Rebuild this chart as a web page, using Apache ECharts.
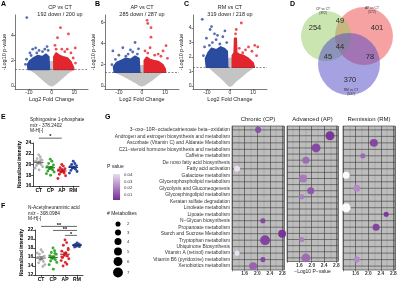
<!DOCTYPE html>
<html>
<head>
<meta charset="utf-8">
<title>Metabolomics panels</title>
<script src="https://cdn.jsdelivr.net/npm/echarts@6.0.0/dist/echarts.min.js"></script>
<style>
  html, body { margin: 0; padding: 0; background: #fff; }
  #chart { width: 400px; height: 283px; }
</style>
</head>
<body>
<div id="chart"></div>
<script>
// ---------- A-C: volcano plots (x = log2 fold change, y = -log10 p) ----------
const volcanoNames = ['CP vs CT', 'AP vs CT', 'RM vs CT'];
const downCounts = [192, 285, 319];
const upCounts = [200, 287, 218];
const pThreshold = 1.3; // -log10(0.05)

// non-significant cloud outline, dense significant cloud outlines, sparse points
const cpGray = [[-9.5,1.3],[-7,1.0],[-4.5,0.6],[-2.5,0.3],[-1,0.08],[0,0],[1,0.08],[2.5,0.3],[4.5,0.6],[7,1.0],[9.5,1.3],[1,1.3],[0.8,1.9],[-0.8,1.9],[-1,1.3]];
const cpDownArea = [[-10.3,1.3],[-10.6,1.7],[-9.5,2.0],[-8,2.2],[-6,2.4],[-4,2.3],[-2.5,2.5],[-1.2,2.3],[-1,1.3]];
const cpUpArea = [[1,1.3],[1,2.3],[2,2.6],[3.5,2.4],[5,2.3],[7,2.2],[8.5,1.9],[9.5,1.5],[9.8,1.3]];
const cpDown = [[-10.9,5.4],[-8.3,2.9],[-7,3.0],[-9.5,2.6],[-5.5,2.8],[-3,2.9],[-2,3.1],[-11,2.1],[-6.5,2.6],[-4,2.7],[-1.5,2.8],[-9,2.4],[-11.5,1.7]];
const cpUp = [[3.9,4.6],[7.4,4.1],[2.6,3.8],[6.9,2.9],[10.4,3.0],[4.5,2.9],[2,2.9],[8.5,2.6],[5.8,2.7],[1.5,3.2],[9.5,2.2],[10.5,1.8]];

const apGray = [[-11.5,1.3],[-8,0.95],[-5,0.6],[-2.5,0.28],[-1,0.08],[0,0],[1,0.08],[2.5,0.3],[4.5,0.6],[6.5,0.95],[8.5,1.3],[1,1.3],[0.8,1.9],[-0.8,1.9],[-1,1.3]];
const apDownArea = [[-12,1.3],[-12.3,1.8],[-11,2.2],[-9,2.4],[-7,2.6],[-5,2.5],[-3,2.8],[-1.3,2.6],[-1,1.3]];
const apUpArea = [[1,1.3],[1,2.4],[2,2.7],[3.5,2.5],[5,2.4],[7,2.3],[9,2.0],[10,1.6],[10.2,1.3]];
const apDown = [[-12.6,3.3],[-3,4.1],[-8.3,3.6],[-6,3.0],[-10,2.9],[-4,3.2],[-2,3.0],[-7,2.8],[-1.5,3.5],[-11.5,2.5],[-13,2.0],[-5,3.4]];
const apUp = [[2.2,6.2],[2.5,5.9],[3.9,5.5],[3.9,4.6],[10.4,3.8],[9.1,3.3],[3.5,3.6],[7,3.0],[1.3,3.3],[5.5,2.9],[8.2,2.8],[11,2.6],[2.5,3.1]];

const rmGray = [[-9,1.3],[-6.5,0.95],[-4,0.6],[-2,0.28],[-0.8,0.07],[0,0],[0.8,0.07],[2.2,0.3],[4.5,0.6],[7,0.95],[10,1.3],[1,1.3],[0.8,1.9],[-0.8,1.9],[-1,1.3]];
const rmDownArea = [[-10.2,1.3],[-10.6,1.9],[-9.5,2.3],[-8,2.6],[-6,2.5],[-4,2.7],[-2.5,2.6],[-1.2,2.4],[-1,1.3]];
const rmUpArea = [[1,1.3],[1,2.1],[1.8,2.3],[2,3.3],[2.7,3.3],[2.9,2.3],[4,2.2],[6,2.1],[8,1.9],[10,1.6],[10.5,1.3]];
const rmDown = [[-12,4.6],[-8,4.1],[-8.6,3.9],[-6.7,3.6],[-5.4,3.5],[-10.2,3.3],[-3.1,3.4],[-7.6,3.0],[-4.4,2.9],[-1.4,3.0],[-8.9,2.8],[-2.2,3.8],[-11,2.7],[-6,3.2],[-11.5,2.1]];
const rmUp = [[4.9,4.35],[2.7,3.9],[2.4,3.6],[10.7,2.8],[12,2.7],[8,2.7],[6.7,2.5],[4,2.6],[9.5,2.4],[11.5,2.1],[5.5,2.3]];

// ---------- D: Venn ----------
const vennSets = ['CP vs CT', 'AP vs CT', 'RM vs CT'];
// CP only, CP&AP, AP only, all three, CP&RM, AP&RM, RM only
const vennCounts = [254, 49, 401, 44, 45, 78, 370];

// ---------- E / F: single metabolites ----------
const groups = ['CT', 'CP', 'AP', 'RM'];
const s1pCT = [21.8, 21.4, 21.1, 20.8, 20.6, 20.4, 20.2, 20.0, 19.8, 19.6, 19.3, 19.0, 20.9];
const s1pCP = [21.0, 20.6, 20.2, 19.9, 19.6, 19.4, 19.2, 19.0, 18.8, 18.6, 18.3, 18.0, 19.5];
const s1pAP = [20.0, 19.7, 19.4, 19.2, 19.0, 18.8, 18.6, 18.4, 18.2, 17.9, 17.4, 19.1, 18.7];
const s1pRM = [20.6, 20.2, 20.0, 19.8, 19.6, 19.5, 19.3, 19.1, 18.9, 18.7, 18.4];
const neuCT = [17.6, 17.1, 16.6, 16.2, 15.9, 15.6, 15.3, 15.0, 14.7, 14.3, 16.9, 15.8, 13.9];
const neuCP = [18.0, 17.4, 17.0, 16.6, 16.3, 16.0, 15.7, 15.4, 15.1, 14.8, 14.3, 13.3, 16.8, 15.9];
const neuAP = [19.8, 19.2, 18.6, 17.9, 17.3, 16.9, 16.5, 16.2, 15.9, 15.6, 15.2, 14.8, 14.4, 14.0, 17.6, 16.0];
const neuRM = [19.1, 18.9, 18.8, 18.7, 18.6, 18.5, 18.4, 18.3, 18.2];
const s1pSig = [['CT', 'AP', '*']];
const neuSig = [['CT', 'RM', '**'], ['CP', 'RM', '**'], ['AP', 'RM', '*']];

// ---------- G: pathway enrichment ----------
const pathways = [
  '3\u2212oxo\u221210R\u2212octadecatrienoate beta\u2212oxidation',
  'Androgen and estrogen biosynthesis and metabolism',
  'Ascorbate (Vitamin C) and Aldarate Metabolism',
  'C21\u2212steroid hormone biosynthesis and metabolism',
  'Caffeine metabolism',
  'De novo fatty acid biosynthesis',
  'Fatty acid activation',
  'Galactose metabolism',
  'Glycerophospholipid metabolism',
  'Glycolysis and Gluconeogenesis',
  'Glycosphingolipid metabolism',
  'Keratan sulfate degradation',
  'Linoleate metabolism',
  'Lipoate metabolism',
  'N\u2212Glycan biosynthesis',
  'Propanoate metabolism',
  'Starch and Sucrose Metabolism',
  'Tryptophan metabolism',
  'Ubiquinone Biosynthesis',
  'Vitamin A (retinol) metabolism',
  'Vitamin B6 (pyridoxine) metabolism',
  'Xenobiotics metabolism'
];
const facetNames = ['Chronic (CP)', 'Advanced (AP)', 'Remission (RM)'];
const cpRows = [1, 7, 15, 17, 18, 20, 21, 22];
const cpLogP = [2.03, 1.36, 2.18, 2.79, 2.25, 1.36, 2.18, 1.87];
const cpHits = [3, 3, 2, 5, 7, 2, 2, 5];
const apRows = [2, 4, 6, 9, 11, 12, 19, 22];
const apLogP = [2.59, 2.14, 1.81, 1.72, 1.97, 1.68, 1.68, 1.81];
const apHits = [6, 6, 4, 5, 4, 2, 2, 6];
const rmRows = [3, 5, 8, 10, 13, 14, 16, 21];
const rmLogP = [2.18, 1.83, 1.30, 1.64, 1.30, 2.57, 2.25, 1.64];
const rmHits = [5, 2, 4, 4, 6, 2, 4, 3];
const pLegend = [0.04, 0.03, 0.02, 0.01];
const countLegend = [2, 3, 4, 5, 6, 7];

// ---------- styling ----------
const FONT = '"Liberation Sans", Arial, Helvetica, sans-serif';
const TXT = '#222';
const BLUE = '#2b4ba0', RED = '#e3262e', GRAY = '#c4c4c4';
const groupColors = ['#b5b5b5', '#3aaa35', '#e3262e', '#2b4ba0'];
const meanColors = ['#6f6f6f', '#1e7d1c', '#b3141b', '#1a2f7a'];
const jitter = [0, 1, -1, 2, -2, 0.5, -0.5, 1.5, -1.5, 2.4, -2.4, 0.2, 1.2, -1.2, 2, -2];

function pColor(p) {
  const t = Math.max(0, Math.min(1, (0.05 - p) / (0.05 - 0.002)));
  const lo = [255, 255, 255], hi = [118, 46, 150];
  const c = lo.map((v, i) => Math.round(v + (hi[i] - v) * t));
  return 'rgb(' + c.join(',') + ')';
}
const colorForLogP = (x) => pColor(Math.pow(10, -x));
const dotSize = (n) => 3.2 + 0.95 * n;

const chart = echarts.init(document.getElementById('chart'), null, { renderer: 'canvas' });

const grids = [];
const xAxes = [];
const yAxes = [];
const series = [];
const graphics = [];

function text(x, y, str, o) {
  o = o || {};
  graphics.push({
    type: 'text', x: x, y: y, silent: true, z: 10,
    style: {
      text: str, fill: o.color || TXT, fontSize: o.size || 5, fontFamily: FONT,
      fontWeight: o.weight || 'normal', align: o.align || 'left', verticalAlign: o.valign || 'middle'
    }
  });
}

// ---- volcano panels ----
const volcanoLayout = [
  { left: 14, ymin: -0.25, ymax: 5.6, ticks: [0, 2, 4], title: 60 },
  { left: 105, ymin: -0.3, ymax: 6.7, ticks: [0, 2, 4, 6], title: 142 },
  { left: 193, ymin: -0.2, ymax: 4.9, ticks: [0, 1, 2, 3, 4], title: 230 }
];
const volcanoData = [
  [cpGray, cpDownArea, cpUpArea, cpDown, cpUp],
  [apGray, apDownArea, apUpArea, apDown, apUp],
  [rmGray, rmDownArea, rmUpArea, rmDown, rmUp]
];
const axisLineStyle = { color: '#222', width: 0.6 };

function polygonSeries(gi, pts, color, z) {
  return {
    type: 'custom', xAxisIndex: gi, yAxisIndex: gi, z: z, silent: true, clip: true,
    data: pts, encode: { x: 0, y: 1 },
    renderItem: (params, api) => {
      if (params.dataIndex !== 0) return null;
      return {
        type: 'polygon', shape: { points: pts.map(p => api.coord(p)) },
        style: { fill: color, stroke: color, lineWidth: 1.6, lineJoin: 'round' }
      };
    }
  };
}

volcanoLayout.forEach((L, gi) => {
  grids.push({ left: L.left, top: 15, width: 74, height: 74 });
  xAxes.push({
    gridIndex: gi, type: 'value', min: -16, max: 16,
    axisLine: { show: true, onZero: false, lineStyle: axisLineStyle },
    axisTick: { show: true, length: 1.5, customValues: [-10, 0, 10], lineStyle: axisLineStyle },
    axisLabel: { customValues: [-10, 0, 10], fontSize: 5, margin: 1.5, color: '#333', fontFamily: FONT },
    splitLine: { show: false },
    name: 'Log2 Fold Change', nameLocation: 'middle', nameGap: 6.5,
    nameTextStyle: { fontSize: 5.5, color: TXT, fontFamily: FONT }
  });
  yAxes.push({
    gridIndex: gi, type: 'value', min: L.ymin, max: L.ymax,
    axisLine: { show: true, onZero: false, lineStyle: axisLineStyle },
    axisTick: { show: true, length: 1.5, customValues: L.ticks, lineStyle: axisLineStyle },
    axisLabel: { customValues: L.ticks, fontSize: 5, margin: 1.5, color: '#333', fontFamily: FONT },
    splitLine: { show: false },
    name: '-Log10 p-value', nameLocation: 'middle', nameGap: 6.5,
    nameTextStyle: { fontSize: 5.5, color: TXT, fontFamily: FONT }
  });
  const d = volcanoData[gi];
  series.push(polygonSeries(gi, d[0], GRAY, 1));
  series.push(polygonSeries(gi, d[1], BLUE, 2));
  series.push(polygonSeries(gi, d[2], RED, 2));
  series.push({ type: 'scatter', xAxisIndex: gi, yAxisIndex: gi, data: d[3], symbolSize: 2.8, itemStyle: { color: BLUE }, silent: true, z: 3 });
  series.push({
    type: 'scatter', xAxisIndex: gi, yAxisIndex: gi, data: d[4], symbolSize: 2.8, itemStyle: { color: RED }, silent: true, z: 3,
    markLine: {
      silent: true, symbol: ['none', 'none'], label: { show: false }, z: 6,
      lineStyle: { color: '#444', type: [2, 1.5], width: 0.6 },
      data: [{ yAxis: pThreshold }]
    }
  });
  text(L.title, 7, volcanoNames[gi], { size: 5.5, align: 'center' });
  text(L.title, 14, downCounts[gi] + ' down / ' + upCounts[gi] + ' up', { size: 5.5, align: 'center' });
});

// ---- Venn (grid 3, hidden axes, units ~ px) ----
const vennCircles = [[36, 36, 25], [74, 36, 29], [59, 64, 31]];
const vennFill = ['rgba(150,204,95,0.5)', 'rgba(238,70,70,0.5)', 'rgba(78,70,196,0.5)'];
const vennDrawOrder = [1, 0, 2];
const vennCountPos = [[25, 28], [50, 21], [87, 28], [50, 47], [38, 57], [80, 57], [60, 80]];
const vennSetPos = [[33, 11], [82, 10], [61, 92]];
const c = vennCounts;
const vennTotals = [c[0] + c[1] + c[3] + c[4], c[1] + c[2] + c[3] + c[5], c[3] + c[4] + c[5] + c[6]];

grids.push({ left: 290, top: 0, width: 110, height: 100 });
xAxes.push({ gridIndex: 3, type: 'value', min: 0, max: 110, show: false });
yAxes.push({ gridIndex: 3, type: 'value', min: 0, max: 100, inverse: true, show: false });
series.push({
  type: 'custom', xAxisIndex: 3, yAxisIndex: 3, silent: true, z: 2,
  data: vennDrawOrder.map(i => vennCircles[i].concat([i])), encode: { x: 0, y: 1 },
  renderItem: (params, api) => {
    const p = api.coord([api.value(0), api.value(1)]);
    const r = api.size([api.value(2), 0])[0];
    return { type: 'circle', shape: { cx: p[0], cy: p[1], r: r }, style: { fill: vennFill[api.value(3)] } };
  }
});
series.push({
  type: 'custom', xAxisIndex: 3, yAxisIndex: 3, silent: true, z: 4,
  data: vennCountPos, encode: { x: 0, y: 1 },
  renderItem: (params, api) => {
    const p = api.coord([api.value(0), api.value(1)]);
    return {
      type: 'text', x: p[0], y: p[1],
      style: { text: String(vennCounts[params.dataIndex]), fontSize: 7.5, fontFamily: FONT, fill: '#2a2a2a', align: 'center', verticalAlign: 'middle' }
    };
  }
});
series.push({
  type: 'custom', xAxisIndex: 3, yAxisIndex: 3, silent: true, z: 4,
  data: vennSetPos, encode: { x: 0, y: 1 },
  renderItem: (params, api) => {
    const p = api.coord([api.value(0), api.value(1)]);
    const i = params.dataIndex;
    return {
      type: 'text', x: p[0], y: p[1],
      style: { text: vennSets[i] + '\n(' + vennTotals[i] + ')', fontSize: 3.3, lineHeight: 3.8, fontFamily: FONT, fill: '#333', align: 'center', verticalAlign: 'middle' }
    };
  }
});

// ---- E / F strip plots ----
function stripPanel(gi, layout, vals, sig, sigY) {
  grids.push({ left: layout.left, top: layout.top, width: layout.width, height: layout.height });
  const bold = { fontSize: 5, fontWeight: 'bold', color: '#000', fontFamily: FONT };
  xAxes.push({
    gridIndex: gi, type: 'category', data: groups, boundaryGap: true,
    axisLine: { show: true, lineStyle: { color: '#000', width: 0.7 } },
    axisTick: { show: true, alignWithLabel: true, length: 1.8, lineStyle: { color: '#000', width: 0.7 } },
    axisLabel: Object.assign({ margin: 2.2, interval: 0 }, bold)
  });
  yAxes.push({
    gridIndex: gi, type: 'value', min: layout.min, max: layout.max, interval: 2,
    axisLine: { show: true, lineStyle: { color: '#000', width: 0.7 } },
    axisTick: { show: true, length: 1.8, lineStyle: { color: '#000', width: 0.7 } },
    axisLabel: Object.assign({ margin: 1.8 }, bold),
    splitLine: { show: false },
    name: 'Normalized intensity', nameLocation: 'middle', nameGap: 8,
    nameTextStyle: { fontSize: 4.8, fontWeight: 'bold', color: '#000', fontFamily: FONT }
  });
  const pts = [];
  vals.forEach((arr, g) => arr.forEach((v, i) => pts.push([g, v, i])));
  series.push({
    type: 'custom', xAxisIndex: gi, yAxisIndex: gi, silent: true, z: 3,
    data: pts, encode: { x: 0, y: 1 },
    renderItem: (params, api) => {
      const g = api.value(0), i = api.value(2);
      const p = api.coord([g, api.value(1)]);
      return { type: 'circle', shape: { cx: p[0] + jitter[i % jitter.length] * 1.6, cy: p[1], r: 1.45 }, style: { fill: groupColors[g] } };
    }
  });
  const stats = vals.map((arr, g) => {
    const n = arr.length;
    const m = arr.reduce((a, b) => a + b, 0) / n;
    const sd = Math.sqrt(arr.reduce((a, b) => a + (b - m) * (b - m), 0) / (n - 1));
    return [g, m, sd / Math.sqrt(n)];
  });
  series.push({
    type: 'custom', xAxisIndex: gi, yAxisIndex: gi, silent: true, z: 4,
    data: stats, encode: { x: 0, y: 1 },
    renderItem: (params, api) => {
      const g = api.value(0), m = api.value(1), se = api.value(2);
      const p = api.coord([g, m]);
      const hi = api.coord([g, m + se])[1], lo = api.coord([g, m - se])[1];
      const st = { stroke: meanColors[g], lineWidth: 0.8 };
      const seg = (x1, y1, x2, y2, w) => ({ type: 'line', shape: { x1, y1, x2, y2 }, style: Object.assign({}, st, w ? { lineWidth: w } : {}) });
      return {
        type: 'group', children: [
          seg(p[0] - 4.8, p[1], p[0] + 4.8, p[1], 1.1),
          seg(p[0], hi, p[0], lo),
          seg(p[0] - 2.3, hi, p[0] + 2.3, hi),
          seg(p[0] - 2.3, lo, p[0] + 2.3, lo)
        ]
      };
    }
  });
  series.push({
    type: 'custom', xAxisIndex: gi, yAxisIndex: gi, silent: true, z: 5, clip: false,
    data: sig.map((s, k) => [groups.indexOf(s[0]), sigY[k]]), encode: { x: 0, y: 1 },
    renderItem: (params, api) => {
      const s = sig[params.dataIndex];
      const y = api.value(1);
      const a = api.coord([groups.indexOf(s[0]), y]);
      const b = api.coord([groups.indexOf(s[1]), y]);
      return {
        type: 'group', children: [
          { type: 'line', shape: { x1: a[0], y1: a[1], x2: b[0], y2: b[1] }, style: { stroke: '#000', lineWidth: 0.6 } },
          { type: 'text', x: (a[0] + b[0]) / 2, y: a[1] + 1.6, style: { text: s[2], fontSize: 5.5, fontWeight: 'bold', fontFamily: FONT, fill: '#000', align: 'center', verticalAlign: 'bottom' } }
        ]
      };
    }
  });
}
stripPanel(4, { left: 33, top: 143, width: 46, height: 43, min: 16, max: 24 }, [s1pCT, s1pCP, s1pAP, s1pRM], s1pSig, [24.9]);
stripPanel(5, { left: 35, top: 230, width: 48, height: 45, min: 12, max: 22 }, [neuCT, neuCP, neuAP, neuRM], neuSig, [22.8, 21.9, 20.8]);

text(30, 120, 'Sphingosine 1-phosphate', { size: 4.8 });
text(30, 125.5, 'm/z - 378.2402', { size: 4.8 });
text(30, 131, 'M-H[-]', { size: 4.8 });
text(28, 208, 'N-Acetylneuraminic acid', { size: 4.8 });
text(28, 213.5, 'm/z - 308.0984', { size: 4.8 });
text(28, 219, 'M-H[-]', { size: 4.8 });

// ---- G facets ----
const facetLayout = [{ left: 232, width: 52 }, { left: 287, width: 51 }, { left: 343, width: 52 }];
const facetData = [[cpRows, cpLogP, cpHits], [apRows, apLogP, apHits], [rmRows, rmLogP, rmHits]];
const rowIdx = pathways.map((_, i) => i + 1);
facetLayout.forEach((F, k) => {
  const gi = 6 + k;
  grids.push({ left: F.left, top: 126, width: F.width, height: 144, show: true, backgroundColor: '#bdbdbd', borderColor: '#333', borderWidth: 0.6 });
  xAxes.push({
    gridIndex: gi, type: 'value', min: 1.2, max: 2.85, interval: 0.4,
    axisLine: { show: false },
    axisTick: { show: true, length: 1.5, lineStyle: { color: '#333', width: 0.5 } },
    axisLabel: { fontSize: 4.8, fontWeight: 'bold', color: '#333', margin: 1.6, fontFamily: FONT, showMaxLabel: false, formatter: v => (v < 1.3 ? '' : v.toFixed(1)) },
    splitLine: { show: true, lineStyle: { color: '#3a3a3a', width: 0.6 } },
    minorTick: { show: false, splitNumber: 2 },
    minorSplitLine: { show: true, lineStyle: { color: '#8a8a8a', width: 0.4 } },
    name: k === 1 ? '\u2212Log10 P\u2212value' : '', nameLocation: 'middle', nameGap: 7.5,
    nameTextStyle: { fontSize: 5, color: TXT, fontFamily: FONT }
  });
  yAxes.push({
    gridIndex: gi, type: 'value', inverse: true, min: 0.4, max: 22.6,
    axisLine: { show: false }, axisTick: { show: false }, splitLine: { show: false },
    axisLabel: k === 0
      ? { customValues: rowIdx, formatter: v => pathways[Math.round(v) - 1] || '', fontSize: 4.9, color: '#333', margin: 2, fontFamily: FONT }
      : { show: false }
  });
  series.push({
    type: 'custom', xAxisIndex: gi, yAxisIndex: gi, silent: true, z: 1,
    data: rowIdx.map(r => [1.2, r]), encode: { x: 0, y: 1 },
    renderItem: (params, api) => {
      const cs = params.coordSys;
      const y = api.coord([1.2, api.value(1)])[1];
      return { type: 'line', shape: { x1: cs.x, y1: y, x2: cs.x + cs.width, y2: y }, style: { stroke: '#3a3a3a', lineWidth: 0.6 } };
    }
  });
  const d = facetData[k];
  series.push({
    type: 'scatter', xAxisIndex: gi, yAxisIndex: gi, silent: true, z: 3,
    data: d[0].map((r, i) => [d[1][i], r, d[2][i]]),
    symbolSize: v => dotSize(v[2]),
    itemStyle: { color: p => colorForLogP(p.value[0]), opacity: 0.95 }
  });
  text(F.left + F.width / 2, 119.5, facetNames[k], { size: 6, align: 'center' });
});

// G legends
const barTop = 174, barH = 26;
text(107, 167, 'P value', { size: 5 });
graphics.push({
  type: 'rect', shape: { x: 113, y: barTop, width: 7, height: barH }, silent: true,
  style: { fill: new echarts.graphic.LinearGradient(0, 0, 0, 1, [
    { offset: 0, color: pColor(0.042) }, { offset: 1, color: pColor(0.002) }
  ]) }
});
pLegend.forEach(p => {
  const y = barTop + (0.042 - p) / 0.040 * barH;
  text(124, y, p.toFixed(2), { size: 4.3, color: '#333' });
});
text(107, 214, '# Metabolites', { size: 5 });
const legendY = [224, 232.5, 241.5, 251.5, 261.5, 272.5];
countLegend.forEach((n, i) => {
  graphics.push({ type: 'circle', shape: { cx: 118, cy: legendY[i], r: dotSize(n) / 2 }, style: { fill: '#000' }, silent: true });
  text(127, legendY[i], String(n), { size: 4.3, color: '#333' });
});

// panel letters
[['A', 1, 1], ['B', 95, 1], ['C', 184, 1], ['D', 290, 1], ['E', 1, 114], ['F', 1, 203], ['G', 105, 114]].forEach(l => {
  text(l[1], l[2], l[0], { size: 7, weight: 'bold', valign: 'top', color: '#000' });
});

chart.setOption({
  animation: false,
  backgroundColor: '#fff',
  textStyle: { fontFamily: FONT },
  grid: grids,
  xAxis: xAxes,
  yAxis: yAxes,
  series: series,
  graphic: { elements: graphics }
});
</script>
</body>
</html>
